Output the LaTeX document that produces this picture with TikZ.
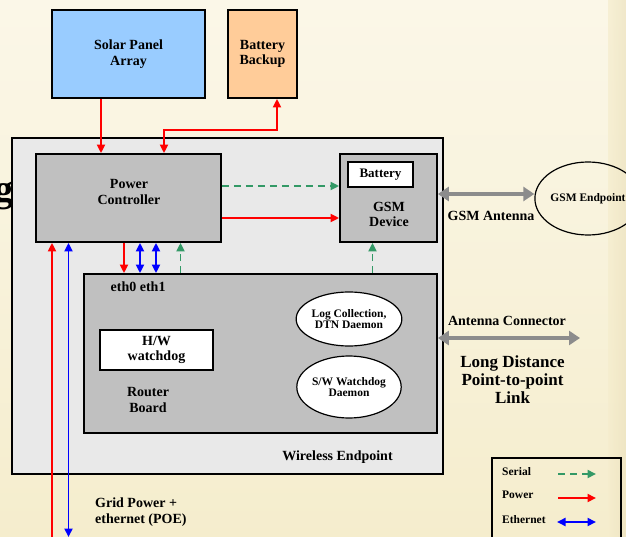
\documentclass[tikz,border=0pt]{standalone}
\usepackage{fontspec}
\setmainfont{Liberation Serif}
\usetikzlibrary{arrows.meta,shapes.geometric,calc}
\definecolor{bgtop}{RGB}{251,247,232}
\definecolor{bgbot}{RGB}{245,237,205}
\definecolor{bgedge}{RGB}{236,226,190}
\definecolor{solarblue}{RGB}{153,204,255}
\definecolor{battorange}{RGB}{255,204,153}
\definecolor{wegray}{RGB}{233,233,233}
\definecolor{boxgray}{RGB}{192,192,192}
\definecolor{serialgreen}{RGB}{51,153,102}
\definecolor{antgray}{RGB}{140,140,140}
\begin{document}
\begin{tikzpicture}[x=1pt,y=-1pt,
  font=\bfseries\fontsize{14}{15.5}\selectfont,
  box/.style={draw=black, line width=1.8pt, align=center, inner sep=0pt},
  txt/.style={align=center, inner sep=0pt},
  small/.style={font=\bfseries\fontsize{11.5}{11.8}\selectfont},
  oval/.style={ellipse, draw=black, line width=1.2pt, fill=white, align=center, inner sep=0pt, small},
  tipR/.style={-{Triangle[length=8.5pt,width=8pt]}},
  pw/.style={draw=red, line width=1.9pt},
  eth/.style={draw=blue, line width=1.9pt, {Triangle[length=8.5pt,width=8pt]}-{Triangle[length=8.5pt,width=8pt]}},
  ser/.style={draw=serialgreen, line width=1.9pt, dash pattern=on 7pt off 5pt, -{Triangle[length=8.5pt,width=8pt]}},
  antarrow/.style={draw=antgray, line width=4.5pt, {Triangle[length=11pt,width=14pt]}-{Triangle[length=11pt,width=14pt]}}
]
\useasboundingbox (0,0) rectangle (626,537);
% background
\shade[top color=bgtop, bottom color=bgbot] (0,0) rectangle (626,537);
\shade[left color=bgbot, right color=bgedge, opacity=0.7] (608,0) rectangle (626,537);

% partly hidden text at left
\node[inner sep=0pt, anchor=base east, font=\bfseries\fontsize{38}{38}\selectfont] (gchar) at (14,202) {g};

% top boxes
\node[box, fill=solarblue, minimum width=153pt, minimum height=88pt] (solar) at (128.5,54) {Solar Panel\\Array};
\node[box, fill=battorange, minimum width=69pt, minimum height=88pt] (batt) at (262.5,54) {Battery\\Backup};

% wireless endpoint
\node[box, fill=wegray, minimum width=431pt, minimum height=336pt] (we) at (227.5,306) {};
\node[txt] (wetxt) at (337.5,457) {Wireless Endpoint};

% power controller
\node[box, fill=boxgray, minimum width=185pt, minimum height=88pt] (pc) at (128.5,198) {};
\node[txt] (pctxt) at (129,192) {Power\\Controller};

% GSM device
\node[box, fill=boxgray, minimum width=97pt, minimum height=88pt] (gsm) at (388.5,198) {};
\node[box, fill=white, line width=1.5pt, minimum width=65pt, minimum height=25pt, font=\bfseries\fontsize{13}{14}\selectfont] (gbat) at (380.5,174.5) {Battery};
\node[txt] (gsmtxt) at (389,214.5) {GSM\\Device};

% router board
\node[box, fill=boxgray, minimum width=353pt, minimum height=159pt] (router) at (260.5,353.5) {};
\node[txt, anchor=west] (eth) at (110.5,287) {eth0 eth1};
\node[box, fill=white, line width=1.5pt, minimum width=113pt, minimum height=40pt] (hw) at (156.5,350) {H/W\\watchdog};
\node[txt] (rbtxt) at (148,400) {Router\\Board};
\node[oval, minimum width=96pt, minimum height=54pt] (log) at (349,319) {Log Collection,\\DTN Daemon};
\node[oval, minimum width=96pt, minimum height=62pt] (sw) at (349,387) {S/W Watchdog\\Daemon};

% GSM endpoint
\node[ellipse, draw=black, line width=1.2pt, minimum width=80pt, minimum height=73pt, inner sep=0pt, small] (gsmend) at (588,198.5) {GSM Endpoint};

% power links
\draw[pw, tipR] (101,0 |- solar.south) -- (101,0 |- pc.north);
\draw[pw, {Triangle[length=8.5pt,width=8pt]}-{Triangle[length=8.5pt,width=8pt]}] (164,0 |- pc.north) -- (164,130) -| (277,0 |- batt.south);
\draw[ser] (pc.east |- 0,186) -- (gsm.west |- 0,186);
\draw[pw, tipR] (pc.east |- 0,218) -- (gsm.west |- 0,218);
\draw[pw, tipR] (124,0 |- pc.south) -- (124,0 |- router.north);
\draw[eth] (140,0 |- pc.south) -- (140,0 |- router.north);
\draw[eth] (156,0 |- pc.south) -- (156,0 |- router.north);
\draw[ser] (180.5,0 |- router.north) -- (180.5,0 |- pc.south);
\draw[ser] (372.5,0 |- router.north) -- (372.5,0 |- gsm.south);

% grid power + ethernet
\coordinate (gridR) at (52,538);
\coordinate (gridB) at (68.5,537);
\draw[pw, tipR] (gridR) -- (gridR |- pc.south);
\draw[eth] (gridB) -- (gridB |- pc.south);
\node[txt, anchor=west, align=left] (grid) at (95,512) {Grid Power +\\ethernet (POE)};

% antennas
\draw[antarrow] (gsm.east |- 0,194) -- (gsmend.west |- 0,194);
\node[txt] (gsmant) at (491,216) {GSM Antenna};
\coordinate (antend) at (580,338);
\draw[antarrow] (router.east |- antend) -- (antend);
\node[txt] (antcon) at (507,321) {Antenna Connector};
\node[txt, font=\bfseries\fontsize{17}{18}\selectfont] (ldl) at (512.5,380) {Long Distance\\Point-to-point\\Link};

% legend
\node[draw=black, line width=1.8pt, minimum width=129pt, minimum height=90pt, inner sep=0pt] (legend) at (556.5,503) {};
\node[txt, anchor=west, small] (lser) at (502,471.5) {Serial};
\node[txt, anchor=west, small] (lpow) at (502,495) {Power};
\node[txt, anchor=west, small] (leth) at (502,519.5) {Ethernet};
\coordinate (ls1) at (558,474);
\coordinate (ls2) at (596,474);
\coordinate (lp1) at (558,498);
\coordinate (lp2) at (596,498);
\coordinate (le1) at (557,522);
\coordinate (le2) at (596,522);
\draw[ser] (ls1) -- (ls2);
\draw[pw, tipR] (lp1) -- (lp2);
\draw[eth] (le1) -- (le2);
\end{tikzpicture}
\end{document}
